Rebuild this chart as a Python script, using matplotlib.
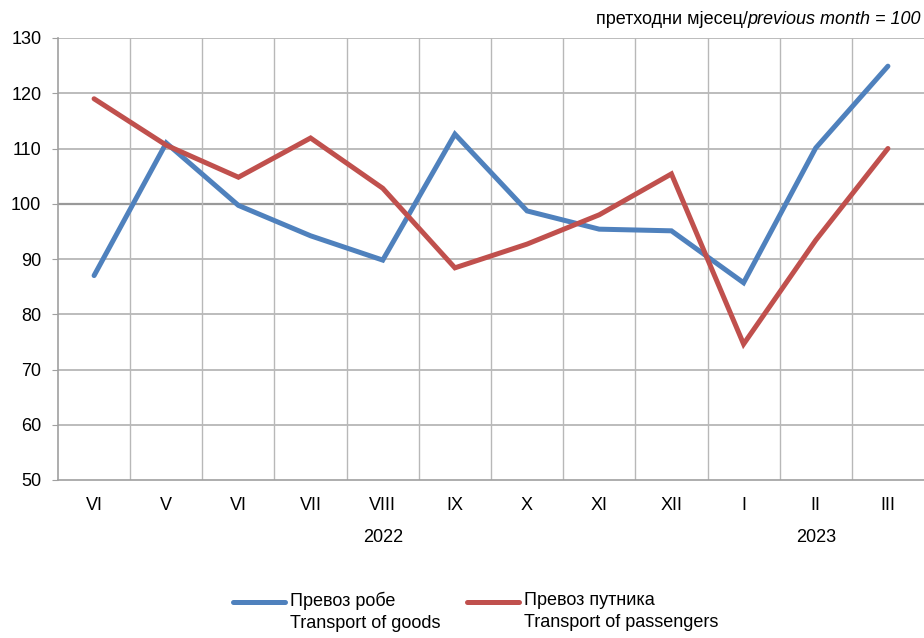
import numpy as np
import matplotlib.pyplot as plt
from matplotlib.lines import Line2D

months = ['VI', 'V', 'VI', 'VII', 'VIII', 'IX', 'X', 'XI', 'XII', 'I', 'II', 'III']
years = ['2022', '2023']
year_spans = [(0, 8), (9, 11)]
goods = [87.0, 111.0, 99.7, 94.2, 89.8, 112.6, 98.7, 95.4, 95.1, 85.7, 110.1, 124.9]
passengers = [119.0, 110.6, 104.8, 111.9, 102.8, 88.4, 92.7, 98.0, 105.4, 74.6, 93.4, 110.0]
series_labels = ['Превоз робе\nTransport of goods', 'Превоз путника\nTransport of passengers']
colors = ['#4F81BD', '#C0504D']

plt.rcParams['font.family'] = ['Liberation Sans', 'DejaVu Sans']
plt.rcParams['font.size'] = 13

fig = plt.figure(figsize=(9.24, 6.38), dpi=100)
ax = fig.add_axes([58/924, 1-480/638, 866/924, 442/638])

x = np.arange(len(months))
for vals, c in zip([goods, passengers], colors):
    ax.plot(x, vals, color=c, lw=3.6, solid_capstyle='round', solid_joinstyle='miter', zorder=3)

ax.set_xlim(-0.5, len(months) - 0.5)
ax.set_ylim(50, 130)
ax.set_yticks(range(50, 131, 10))
ax.set_xticks(x)
ax.set_xticklabels(months)
ax.tick_params(axis='x', length=0, pad=12)
ax.tick_params(axis='y', length=4, color='#a0a0a0', pad=8)

for yv in range(60, 131, 10):
    ax.axhline(yv, color='#b0b0b0' if yv != 100 else '#999999', lw=1.2 if yv != 100 else 1.6, zorder=1)
for xb in np.arange(0.5, len(months) - 0.5, 1):
    ax.axvline(xb, color='#b8b8b8', lw=1.0, zorder=1)

for s in ['top', 'right']:
    ax.spines[s].set_visible(False)
ax.spines['left'].set_color('#a0a0a0')
ax.spines['bottom'].set_color('#a0a0a0')
ax.spines['left'].set_linewidth(1.2)
ax.spines['bottom'].set_linewidth(1.2)

for yr, (a, b) in zip(years, year_spans):
    ax.text((a + b) / 2, -0.13, yr, transform=ax.get_xaxis_transform(), ha='center', va='center')

t_it = fig.text(921/924, 1-20/638, 'previous month = 100', style='italic', ha='right', va='center')
fig.add_artist(plt.Annotation('претходни мјесец/', xy=(0, 0.5), xycoords=t_it, ha='right', va='center'))

# legend drawn by hand: handle sits on the first text line
W, H = 924, 638
for (x0, lab), c in zip([(233, series_labels[0]), (467, series_labels[1])], colors):
    fig.add_artist(Line2D([x0/W, (x0+52)/W], [1-602/H, 1-602/H], color=c, lw=3.6,
                          solid_capstyle='round', transform=fig.transFigure))
    fig.text((x0+57)/W, 1-592/H, lab, ha='left', va='top', linespacing=1.35)

fig.savefig('out.png', dpi=100)
